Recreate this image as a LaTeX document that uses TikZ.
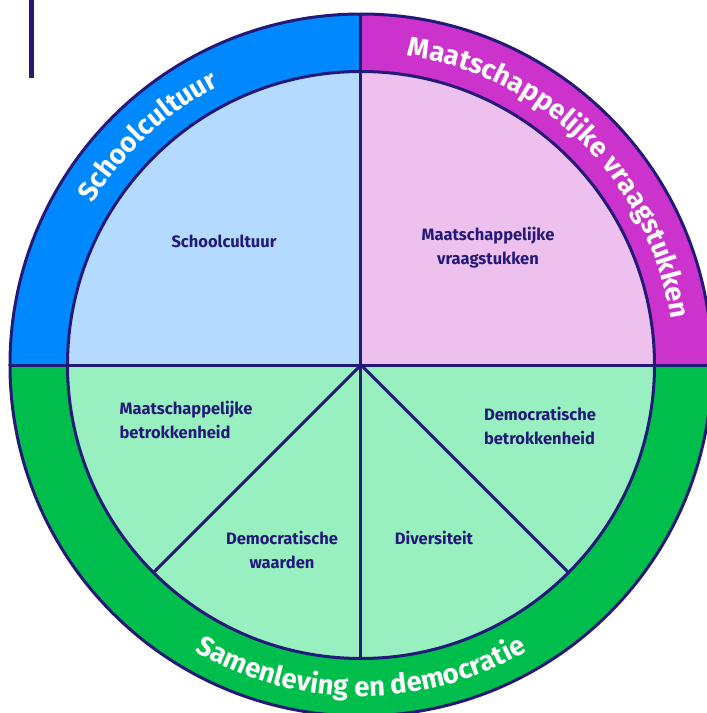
\documentclass[tikz,border=0pt]{standalone}
\usepackage{fontspec}
\setmainfont{Fira Sans}
\usetikzlibrary{decorations.text}
\definecolor{navy}{RGB}{35,25,120}
\definecolor{ringblue}{RGB}{0,136,255}
\definecolor{fillblue}{RGB}{180,218,255}
\definecolor{ringpink}{RGB}{204,51,204}
\definecolor{fillpink}{RGB}{238,192,238}
\definecolor{ringgreen}{RGB}{0,190,75}
\definecolor{fillgreen}{RGB}{152,240,192}

\begin{document}
\begin{tikzpicture}[x=1pt,y=1pt,
  rim/.style={line width=3pt,draw=navy},
  lab/.style={text=navy,font=\bfseries\fontsize{16.5}{24}\selectfont},
  ringtext/.style={decorate,decoration={text along path,text align=center,
    text={|\color{white}\bfseries\fontsize{27.5}{27.5}\selectfont|#1}}}]
\useasboundingbox (-361,-348) rectangle (346,365);
\def\R{351}\def\r{293.5}
\fill[ringgreen] (0,0) -- (180:\R) arc (180:360:\R) -- cycle;
\fill[ringblue] (0,0) -- (90:\R) arc (90:180:\R) -- cycle;
\fill[ringpink] (0,0) -- (0:\R) arc (0:90:\R) -- cycle;
\fill[fillgreen] (0,0) -- (180:\r) arc (180:360:\r) -- cycle;
\fill[fillblue] (0,0) -- (90:\r) arc (90:180:\r) -- cycle;
\fill[fillpink] (0,0) -- (0:\r) arc (0:90:\r) -- cycle;
\draw[rim] (0,0) circle (\R);
\draw[rim] (0,0) circle (\r);
\draw[rim] (180:\R) -- (0:\R);
\draw[rim] (0,0) -- (90:\R);
\draw[rim] (0,0) -- (270:\r);
\draw[rim] (0,0) -- (225:\r);
\draw[rim] (0,0) -- (315:\r);
\draw[navy,line width=5pt] (-329,365) -- (-329,287);
% ring titles
\path[ringtext=Schoolcultuur] (173:313) arc (173:93:313);
\path[ringtext=Maatschappelijke vraagstukken] (100:313) arc (100:-10:313);
\path[ringtext=Samenleving en democratie] (200:331) arc (200:340:331);
% segment labels
\node[lab] (cultuur) at (-137,124) {Schoolcultuur};
\node[lab,align=center] (vraag) at (127,117) {Maatschappelijke\\vraagstukken};
\node[lab,align=left] (mbetr) at (-175,-55) {Maatschappelijke\\betrokkenheid};
\node[lab,align=center] (waarden) at (-79,-185) {Democratische\\waarden};
\node[lab,align=left] (dbetr) at (179,-61) {Democratische\\betrokkenheid};
\node[lab] (divers) at (73,-173) {Diversiteit};
\end{tikzpicture}
\end{document}
